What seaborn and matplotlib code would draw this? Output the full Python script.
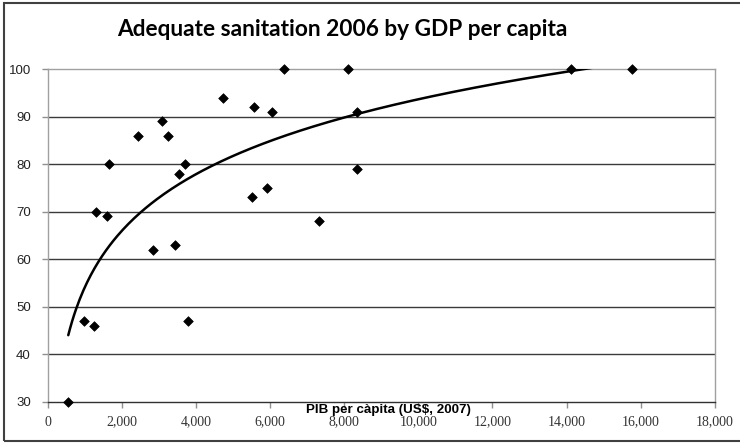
import numpy as np
import pandas as pd
import matplotlib
matplotlib.use("Agg")
import matplotlib.pyplot as plt
import seaborn as sns
from matplotlib.patches import Rectangle
from matplotlib.ticker import FuncFormatter

# Data
gdp_per_capita = [560, 980, 1260, 1300, 1600, 1670, 2430, 2850, 3080, 3260,
                  3450, 3550, 3710, 3800, 4730, 5520, 5560, 5910, 6060, 6380,
                  7320, 8090, 8350, 8350, 14110, 15760]
sanitation = [30, 47, 46, 70, 69, 80, 86, 62, 89, 86,
              63, 78, 80, 47, 94, 73, 92, 75, 91, 100,
              68, 100, 91, 79, 100, 100]
x_ticks = [0, 2000, 4000, 6000, 8000, 10000, 12000, 14000, 16000, 18000]
y_ticks = [30, 40, 50, 60, 70, 80, 90, 100]
title = "Adequate sanitation 2006 by GDP per capita"
xlabel = "PIB per càpita (US$, 2007)"

df = pd.DataFrame({"gdp": gdp_per_capita, "san": sanitation})

sns.set_theme(style="white")
W, H = 740, 444
fig = plt.figure(figsize=(W / 100, H / 100), dpi=100)
ax = fig.add_axes([47.5 / W, 1 - 401.7 / H, (715 - 47.5) / W, (401.7 - 69) / H])

# Logarithmic trendline fitted on the data
a, b = np.polyfit(np.log(df["gdp"]), df["san"], 1)
xs = np.linspace(df["gdp"].min(), df["gdp"].max(), 300)
trend = pd.DataFrame({"gdp": xs, "san": a * np.log(xs) + b})
sns.lineplot(data=trend, x="gdp", y="san", ax=ax, color="black", lw=1.8, zorder=3)

sns.scatterplot(data=df, x="gdp", y="san", ax=ax, marker="D", s=24,
                color="black", edgecolor="black", linewidth=0.5, zorder=4, clip_on=False)

ax.set_xlim(0, 18000)
ax.set_ylim(30, 100)
ax.set_xticks(x_ticks)
ax.set_yticks(y_ticks)
ax.xaxis.set_major_formatter(FuncFormatter(lambda v, p: f"{int(v):,}"))

for y in y_ticks[1:-1]:
    ax.axhline(y, color="#3a3a3a", lw=1.0, zorder=1)

for side in ["top", "right", "left"]:
    ax.spines[side].set_color("#a0a0a0")
    ax.spines[side].set_linewidth(1.0)
ax.spines["bottom"].set_color("#303030")
ax.spines["bottom"].set_linewidth(1.0)

ax.tick_params(axis="x", direction="out", length=4, width=1, color="#909090",
               labelsize=10, labelcolor="#333333", pad=6, bottom=True)
ax.tick_params(axis="y", direction="out", length=4, width=1, color="#909090",
               labelsize=9.5, labelcolor="#222222", pad=8, left=True)
for lab in ax.get_xticklabels():
    lab.set_family("Liberation Serif")
for lab in ax.get_yticklabels():
    lab.set_family("Liberation Sans")

ax.set_xlabel("")
ax.set_ylabel("")

fig.text(342 / W, 1 - 30 / H, title, ha="center", va="center",
         family="Lato", fontweight="bold", fontsize=16.3, color="black")
fig.text(388 / W, 1 - 410 / H, xlabel, ha="center", va="center",
         family="Liberation Sans", fontweight="bold", fontsize=9.6, color="black")

border = Rectangle((4, H - 441), 760, 438, transform=None, fill=False,
                   edgecolor="#404040", lw=1.5)
fig.patches.append(border)

fig.savefig("out.png", dpi=100, facecolor="white")
